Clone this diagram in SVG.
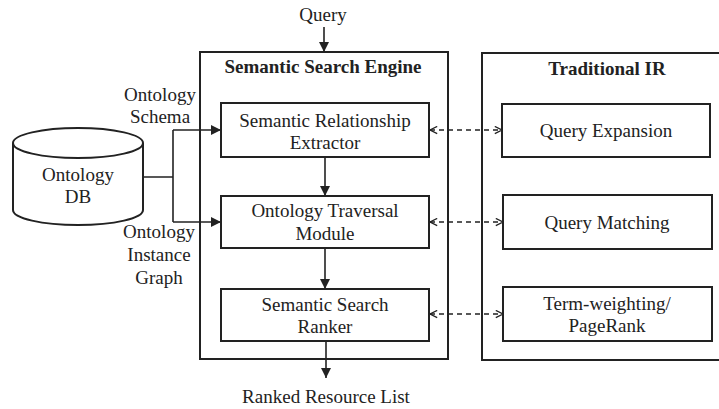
<svg xmlns="http://www.w3.org/2000/svg" width="719" height="409" viewBox="0 0 719 409" font-family="'Liberation Serif', 'Times New Roman', Times, 'DejaVu Serif', serif">
  <defs>
    <marker id="solid" viewBox="0 0 10 10" refX="10" refY="5" markerWidth="10" markerHeight="10" markerUnits="userSpaceOnUse" orient="auto">
      <path d="M0,0 L10,5 L0,10 Z" fill="#222"/>
    </marker>
    <marker id="open" viewBox="0 0 10 10" refX="9" refY="5" markerWidth="9" markerHeight="9" markerUnits="userSpaceOnUse" orient="auto-start-reverse">
      <path d="M1,1 L9,5 L1,9" fill="none" stroke="#222" stroke-width="1.4"/>
    </marker>
  </defs>
  <style>
    text { font-family: 'Liberation Serif', 'Times New Roman', Times, serif; font-size: 19px; fill: #222; text-anchor: middle; }
    .title { font-weight: bold; }
    .box { fill: #fff; stroke: #222; stroke-width: 2; }
    .frame { fill: none; stroke: #222; stroke-width: 2; }
    .wire { fill: none; stroke: #222; stroke-width: 1.6; }
    .dash { fill: none; stroke: #222; stroke-width: 1.4; stroke-dasharray: 5 4; }
  </style>
  <rect width="719" height="409" fill="#fff"/>

  <!-- containers -->
  <g id="engine">
    <rect class="frame" x="200" y="52" width="248" height="307"/>
    <text class="title" x="323" y="73">Semantic Search Engine</text>
  </g>
  <g id="traditional-ir">
    <rect class="frame" x="482" y="53" width="250" height="307"/>
    <text class="title" x="607" y="75">Traditional IR</text>
  </g>

  <!-- connectors -->
  <g id="connectors">
    <line class="wire" x1="324" y1="27" x2="324" y2="52" marker-end="url(#solid)"/>
    <path class="wire" d="M143,177 H173 M173,130 V222"/>
    <line class="wire" x1="173" y1="130" x2="221" y2="130" marker-end="url(#solid)"/>
    <line class="wire" x1="173" y1="222" x2="221" y2="222" marker-end="url(#solid)"/>
    <line class="wire" x1="325" y1="157" x2="325" y2="196" marker-end="url(#solid)"/>
    <line class="wire" x1="325" y1="248" x2="325" y2="289" marker-end="url(#solid)"/>
    <line class="wire" x1="326" y1="341" x2="326" y2="378" marker-end="url(#solid)"/>
    <line class="dash" x1="430" y1="130" x2="502" y2="130" marker-start="url(#open)" marker-end="url(#open)"/>
    <line class="dash" x1="430" y1="222" x2="503" y2="222" marker-start="url(#open)" marker-end="url(#open)"/>
    <line class="dash" x1="430" y1="314" x2="503" y2="314" marker-start="url(#open)" marker-end="url(#open)"/>
  </g>

  <!-- inputs / outputs -->
  <g id="query">
    <text x="323" y="21">Query</text>
  </g>
  <g id="ranked-list">
    <text x="326" y="403">Ranked Resource List</text>
  </g>
  <g id="schema-label">
    <text x="160" y="101">Ontology</text>
    <text x="160" y="123">Schema</text>
  </g>
  <g id="instance-label">
    <text x="159" y="238">Ontology</text>
    <text x="159" y="261">Instance</text>
    <text x="159" y="284">Graph</text>
  </g>

  <!-- ontology database -->
  <g id="ontology-db">
    <path class="box" d="M13,143 V210 A65,15 0 0 0 143,210 V143"/>
    <ellipse class="box" cx="78" cy="143" rx="65" ry="15"/>
    <text x="78" y="181">Ontology</text>
    <text x="78" y="203">DB</text>
  </g>

  <!-- engine modules -->
  <g id="relationship-extractor">
    <rect class="box" x="221" y="103" width="208" height="54"/>
    <text x="325" y="127">Semantic Relationship</text>
    <text x="325" y="149">Extractor</text>
  </g>
  <g id="traversal-module">
    <rect class="box" x="221" y="196" width="208" height="52"/>
    <text x="325" y="217">Ontology Traversal</text>
    <text x="325" y="240">Module</text>
  </g>
  <g id="search-ranker">
    <rect class="box" x="221" y="289" width="208" height="52"/>
    <text x="325" y="311">Semantic Search</text>
    <text x="325" y="333">Ranker</text>
  </g>

  <!-- traditional IR modules -->
  <g id="query-expansion">
    <rect class="box" x="502" y="104" width="208" height="53"/>
    <text x="606" y="137">Query Expansion</text>
  </g>
  <g id="query-matching">
    <rect class="box" x="503" y="195" width="209" height="54"/>
    <text x="607" y="229">Query Matching</text>
  </g>
  <g id="term-weighting">
    <rect class="box" x="503" y="287" width="209" height="54"/>
    <text x="607" y="310">Term-weighting/</text>
    <text x="607" y="332">PageRank</text>
  </g>
</svg>
